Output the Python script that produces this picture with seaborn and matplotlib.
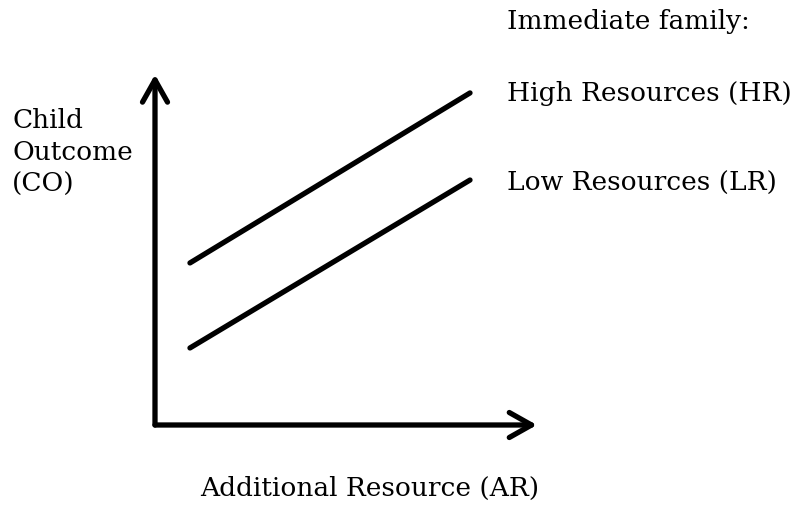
"""
Conceptual diagram: child outcome vs additional resource
"""

import matplotlib
matplotlib.use("Agg")
import matplotlib.pyplot as plt
import pandas as pd
import seaborn as sns

sns.set_style("white")
plt.rcParams["font.family"] = ["DejaVu Serif"]
plt.rcParams["text.color"] = "black"

# data (conceptual units, axes run 0..10)
resource = [0.92, 8.29]
high_res = [4.67, 9.57]
low_res = [2.22, 7.06]
group_labels = ["High Resources (HR)", "Low Resources (LR)"]
legend_title = "Immediate family:"
x_label = "Additional Resource (AR)"
y_label = "Child\nOutcome\n(CO)"

df = pd.DataFrame({
    "AR": resource * 2,
    "CO": high_res + low_res,
    "group": [group_labels[0]] * 2 + [group_labels[1]] * 2,
})

fig = plt.figure(figsize=(8, 5.07), dpi=100)
# axes box from origin (155,425) to arrow tips (535,78) in pixels
ax = fig.add_axes([155 / 800, 1 - 425 / 507, 380 / 800, 347 / 507])

sns.lineplot(data=df, x="AR", y="CO", units="group", estimator=None,
             color="black", linewidth=3.8, ax=ax, legend=False)
ax.set(xlim=(0, 10), ylim=(0, 10), xticks=[], yticks=[], xlabel="", ylabel="")
sns.despine(ax=ax, left=True, bottom=True)

# axis arrows
arrow = dict(arrowstyle="->,head_length=0.8,head_width=0.45", color="black",
             lw=3.8, shrinkA=0, shrinkB=0, mutation_scale=20)
ax.annotate("", xy=(0, 1.01), xytext=(0, 0), xycoords="axes fraction",
            arrowprops=arrow, annotation_clip=False)
ax.annotate("", xy=(1.005, 0), xytext=(0, 0), xycoords="axes fraction",
            arrowprops=arrow, annotation_clip=False)

# labels
fs = 19
fig.text(507 / 800, 1 - 22 / 507, legend_title, fontsize=fs, va="center", ha="left")
fig.text(507 / 800, 1 - 93 / 507, group_labels[0], fontsize=fs, va="center", ha="left")
fig.text(507 / 800, 1 - 183 / 507, group_labels[1], fontsize=fs, va="center", ha="left")
fig.text(12 / 800, 1 - 152 / 507, y_label, fontsize=fs, va="center", ha="left",
         linespacing=1.35)
fig.text(370 / 800, 1 - 488 / 507, x_label, fontsize=fs, va="center", ha="center")

plt.savefig("out.png", dpi=100)
